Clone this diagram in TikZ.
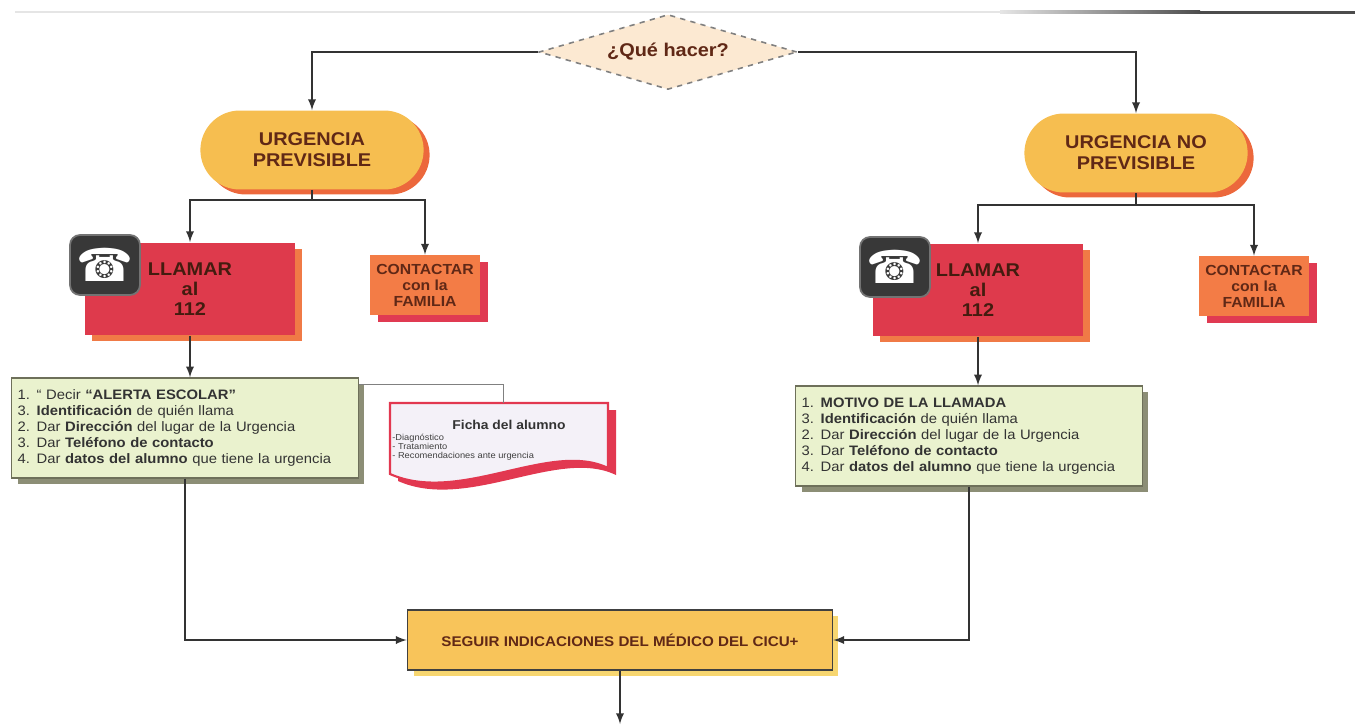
\documentclass[tikz,border=0pt]{standalone}
\usepackage{fontspec}
\setmainfont[FakeStretch=1.08]{Liberation Sans}
\newfontfamily\symfont{DejaVu Sans}
\usetikzlibrary{arrows,shapes,shadows,positioning}

\begin{document}
\begin{tikzpicture}[x=0.02cm,y=-0.02cm,>=latex]
    \definecolor{ovalc}{RGB}{246,190,80}
    \definecolor{ovalsh}{RGB}{236,104,60}
    \definecolor{llamc}{RGB}{222,58,76}
    \definecolor{llamsh}{RGB}{240,122,70}
    \definecolor{contc}{RGB}{243,124,70}
    \definecolor{contsh}{RGB}{224,58,82}
    \definecolor{listc}{RGB}{234,242,206}
    \definecolor{listsh}{RGB}{140,142,118}
    \definecolor{listl}{RGB}{110,112,90}
    \definecolor{seguc}{RGB}{248,196,90}
    \definecolor{segush}{RGB}{247,214,112}
    \definecolor{diac}{RGB}{252,233,210}
    \definecolor{fichac}{RGB}{244,241,248}
    \definecolor{fichal}{RGB}{226,56,80}
    \definecolor{linec}{RGB}{51,51,51}
    \definecolor{txtc}{RGB}{96,40,22}

    \tikzset{
        link/.style={draw=linec,line width=1.1pt},
        thinlink/.style={draw=gray,line width=0.5pt},
        question/.style={diamond,aspect=3.4,draw=gray,dashed,line width=0.9pt,fill=diac,minimum width=5.16cm,minimum height=1.5cm,inner sep=0pt,text=txtc,font=\fontsize{10.5}{12}\selectfont\bfseries},
        oval/.style={rounded rectangle,fill=ovalc,text=txtc,align=center,minimum width=4.7cm,minimum height=1.58cm,font=\fontsize{10.5}{12}\selectfont\bfseries,drop shadow={fill=ovalsh,opacity=1,shadow xshift=0.12cm,shadow yshift=-0.1cm}},
        llamar/.style={rectangle,fill=llamc,text=txtc!70!black,align=center,minimum width=4.2cm,minimum height=1.86cm,font=\fontsize{10.5}{11.3}\selectfont\bfseries,drop shadow={fill=llamsh,opacity=1,shadow xshift=0.14cm,shadow yshift=-0.12cm}},
        phone/.style={rounded corners=0.2cm,fill=black!78,draw=black!55,line width=1pt,minimum width=1.4cm,minimum height=1.2cm,inner sep=0pt,text=white,font=\symfont\fontsize{26}{26}\selectfont},
        contact/.style={rectangle,fill=contc,text=txtc,align=center,minimum width=2.1cm,minimum height=1.2cm,font=\fontsize{8.3}{9.1}\selectfont\bfseries,drop shadow={fill=contsh,opacity=1,shadow xshift=0.16cm,shadow yshift=-0.14cm}},
        steps/.style={rectangle,draw=listl,line width=0.8pt,fill=listc,text=black!80,align=left,text width=6.7cm,minimum height=2cm,font=\fontsize{7.8}{9.1}\selectfont,drop shadow={fill=listsh,opacity=1,shadow xshift=0.12cm,shadow yshift=-0.12cm}},
        follow/.style={rectangle,draw=black!75,line width=1pt,fill=seguc,text=txtc,minimum width=8.5cm,minimum height=1.2cm,font=\fontsize{8}{9}\selectfont\bfseries,drop shadow={fill=segush,opacity=1,shadow xshift=0.12cm,shadow yshift=-0.12cm}},
        fichahead/.style={inner sep=0pt,text=black!80,font=\fontsize{7.3}{9}\selectfont\bfseries},
        fichaitem/.style={inner sep=0pt,align=left,text=black!75,font=\fontsize{4.9}{5.1}\selectfont}
    }

    \useasboundingbox (0,0) rectangle (1355,727);

    \draw[gray!20,line width=0.8pt] (15,12) -- (1000,12);
    \shade[left color=gray!20,right color=black!70] (1000,10.5) rectangle (1200,13.5);
    \fill[black!70] (1200,10.5) rectangle (1355,13.5);

    \node[question] (q) at (668,52) {¿Qué hacer?};

    \node[oval] (urgp) at (312,150) {URGENCIA\\PREVISIBLE};
    \node[oval] (urgn) at (1136,153) {URGENCIA NO\\PREVISIBLE};

    \node[llamar] (llamp) at (190,289) {LLAMAR\\al\\112};
    \node[phone] (telp) at (105,265) {☎};
    \node[contact] (contp) at (425,285) {CONTACTAR\\con la\\FAMILIA};

    \node[llamar] (llamn) at (978,290) {LLAMAR\\al\\112};
    \node[phone] (teln) at (895,267) {☎};
    \node[contact] (contn) at (1254,286) {CONTACTAR\\con la\\FAMILIA};

    \node[steps] (listp) at (185,428) {1. “ Decir \textbf{“ALERTA ESCOLAR”}\\
        3. \textbf{Identificación} de quién llama\\
        2. Dar \textbf{Dirección} del lugar de la Urgencia\\
        3. Dar \textbf{Teléfono de contacto}\\
        4. Dar \textbf{datos del alumno} que tiene la urgencia};
    \node[steps] (listn) at (969,436) {1. \textbf{MOTIVO DE LA LLAMADA}\\
        3. \textbf{Identificación} de quién llama\\
        2. Dar \textbf{Dirección} del lugar de la Urgencia\\
        3. Dar \textbf{Teléfono de contacto}\\
        4. Dar \textbf{datos del alumno} que tiene la urgencia};

    \fill[fichal] (398,410) -- (616,410) -- (616,475) .. controls (558,447) and (468,512) .. (398,481) -- cycle;
    \filldraw[fill=fichac,draw=fichal,line width=1.2pt] (390,403) -- (608,403) -- (608,468) .. controls (550,440) and (460,505) .. (390,474) -- cycle;
    \node[fichahead] (ficha) at (509,425) {Ficha del alumno};
    \node[fichaitem,anchor=north west] (fichadata) at (392,434) {-Diagnóstico\\- Tratamiento\\- Recomendaciones ante urgencia};
    \coordinate (fichatop) at (503,403);

    \node[follow] (seguir) at (620,640) {SEGUIR INDICACIONES DEL MÉDICO DEL CICU+};

    \coordinate (splitp) at (312,200);
    \coordinate (splitn) at (1136,205);
    \coordinate (fin) at (620,724);

    \draw[link,->] (q.west) -| (urgp.north);
    \draw[link,->] (q.east) -| (urgn.north);

    \foreach \s in {p,n} {
        \draw[link] (urg\s.south) -- (split\s);
        \draw[link,->] (split\s) -| (llam\s.north);
        \draw[link,->] (split\s) -| (cont\s.north);
        \draw[link,->] (llam\s.south) -- (llam\s.south |- list\s.north);
    }

    \draw[thinlink] ([yshift=-0.14cm]listp.north east) -| (fichatop);

    \draw[link,->] (listp.south) |- (seguir.west);
    \draw[link,->] (listn.south) |- (seguir.east);
    \draw[link,->] (seguir.south) -- (fin);

\end{tikzpicture}
\end{document}
